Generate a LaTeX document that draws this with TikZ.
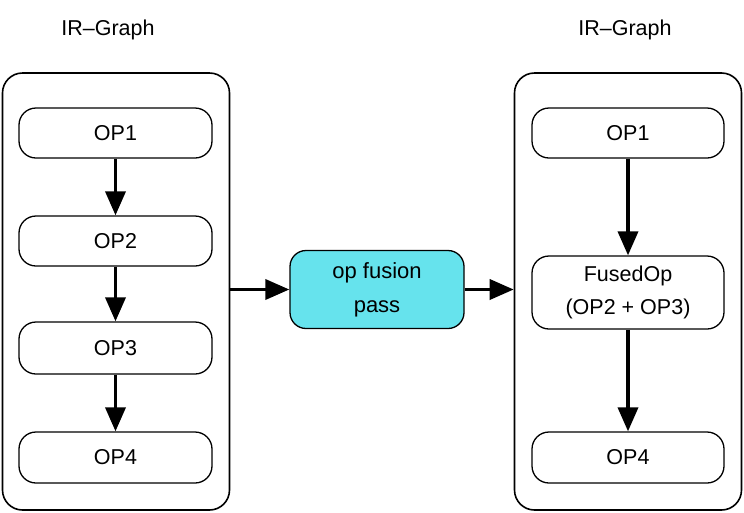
\documentclass[tikz,border=0pt]{standalone}
\usepackage{fontspec}
\setmainfont{Liberation Sans}
\usetikzlibrary{arrows.meta}
\definecolor{passfill}{RGB}{102,227,237}
\begin{document}
\begin{tikzpicture}[x=1pt,y=-1pt,
  container/.style={draw,line width=1.6pt,rounded corners=20pt,minimum width=227pt,inner sep=0pt},
  opbox/.style={draw,line width=1.3pt,rounded corners=17pt,fill=white,minimum width=193pt,minimum height=50pt,inner sep=0pt,font=\fontsize{21.5}{24}\selectfont,align=center},
  passbox/.style={draw,line width=1.3pt,rounded corners=16pt,fill=passfill,minimum width=174pt,minimum height=78pt,inner sep=0pt,font=\fontsize{22}{34}\selectfont,align=center},
  title/.style={font=\fontsize{21.5}{24}\selectfont},
  flow/.style={line width=3.6pt,-{Triangle[length=24pt,width=20pt]}}
]
\useasboundingbox (0,0) rectangle (744,512);
\node[title] (tL) at (108,30) {IR–Graph};
\node[title] (tR) at (625,30) {IR–Graph};
\node[container,minimum height=437pt] (cL) at (116,291.5) {};
\node[container,minimum height=437pt] (cR) at (628,291.5) {};
\node[opbox] (l1) at (115.5,133) {OP1};
\node[opbox] (l2) at (115.5,241) {OP2};
\node[opbox,minimum height=52pt] (l3) at (115.5,348) {OP3};
\node[opbox,minimum height=51pt] (l4) at (115.5,457.5) {OP4};
\node[passbox] (pass) at (377,289.5) {op fusion\\pass};
\node[opbox,minimum width=192pt] (r1) at (628,133) {OP1};
\node[opbox,minimum width=192pt,minimum height=73pt,font=\fontsize{21.5}{33}\selectfont] (rf) at (628,292.5) {FusedOp\\(OP2 + OP3)};
\node[opbox,minimum width=192pt,minimum height=51pt] (r4) at (628,457.5) {OP4};
\draw[flow] (l1) -- (l2);
\draw[flow] (l2) -- (l3);
\draw[flow] (l3) -- (l4);
\draw[flow] (r1) -- (rf);
\draw[flow] (rf) -- (r4);
\draw[flow] (cL.east |- pass.west) -- (pass.west);
\draw[flow] (pass.east) -- (cR.west |- pass.east);
\end{tikzpicture}
\end{document}
